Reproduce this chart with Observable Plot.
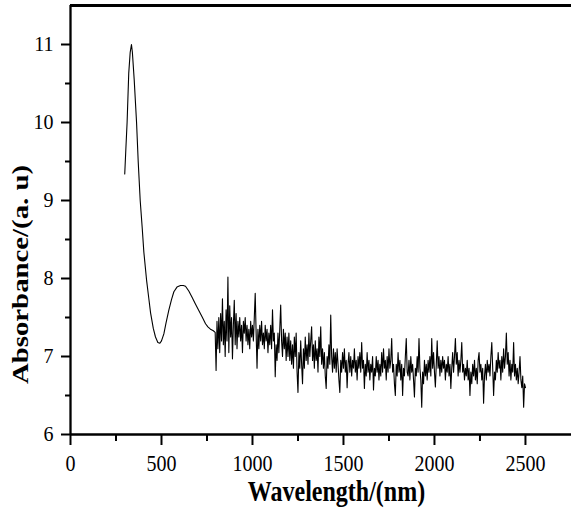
<!DOCTYPE html>
<html>
<head>
<meta charset="utf-8">
<script src="https://cdn.jsdelivr.net/npm/d3@7"></script>
<script src="https://cdn.jsdelivr.net/npm/@observablehq/plot@0.6"></script>
<style>
  html, body { margin: 0; padding: 0; background: white; }
</style>
</head>
<body>
<div id="chart"></div>
<script>
// Smooth UV-Vis part (wavelength nm, absorbance)
const smoothX = [298, 304, 311, 320, 328, 335, 340, 350, 363, 372,
                 383, 394, 403, 418, 430, 440, 455, 467, 480, 491,
                 500, 513, 525, 540, 555, 568, 585, 604, 620, 632,
                 650, 668, 685, 705, 725, 742, 755, 769, 785, 795];
const smoothY = [9.34, 9.65, 10.0, 10.63, 10.9, 11.0, 10.9, 10.55, 10.0, 9.5,
                 9.0, 8.65, 8.34, 7.98, 7.75, 7.56, 7.36, 7.25, 7.18, 7.17,
                 7.2, 7.29, 7.43, 7.59, 7.73, 7.83, 7.89, 7.91, 7.91, 7.90,
                 7.84, 7.76, 7.68, 7.59, 7.5, 7.42, 7.38, 7.35, 7.33, 7.31];

// Noisy NIR part: sampled every 5 nm starting at 800 nm
const noiseStart = 800;
const noiseStep = 5;
const noiseY = [
  6.82, 7.45, 7.1, 7.5, 7.05, 7.55, 7.2, 7.74, 7.15, 7.45, 7.0, 7.6, 7.2, 8.02, 7.05, 7.65, 7.25, 7.5, 6.97, 7.4,
  7.72, 7.15, 7.55, 7.1, 7.45, 7.25, 7.5, 7.2, 7.4, 7.05, 7.45, 7.3, 7.5, 7.2, 7.4, 7.15, 7.35, 7.1, 7.45, 7.25,
  7.4, 7.2, 7.5, 7.81, 7.3, 6.85, 7.35, 7.1, 7.4, 7.2, 7.45, 7.15, 7.3, 7.1, 7.4, 7.2, 7.35, 7.05, 7.3, 7.15,
  7.4, 7.1, 7.6, 7.2, 7.3, 6.74, 7.15, 6.95, 7.3, 7.05, 7.35, 7.66, 7.2, 7.0, 7.35, 7.1, 7.3, 6.95, 7.25, 7.0,
  7.3, 6.95, 7.2, 6.9, 7.15, 6.85, 7.25, 7.0, 7.3, 6.8, 6.54, 7.05, 6.85, 7.2, 6.9, 6.65, 7.1, 6.85, 7.25, 6.95,
  7.15, 6.9, 7.3, 7.0, 7.2, 7.38, 6.95, 7.15, 6.85, 7.2, 6.95, 7.1, 6.8, 7.25, 7.0, 7.38, 6.9, 7.1, 6.85, 7.05,
  6.75, 6.59, 7.0, 6.85, 7.15, 6.9, 7.53, 7.0, 6.8, 7.1, 6.85, 7.05, 6.8, 7.1, 6.9, 6.7, 6.54, 6.95, 6.8, 7.05,
  6.85, 7.1, 6.8, 6.95, 6.6, 6.9, 7.05, 6.8, 7.0, 6.75, 6.95, 6.85, 7.1, 6.8, 6.95, 6.7, 7.0, 6.85, 7.05, 6.8,
  7.18, 6.85, 6.95, 6.59, 6.9, 6.75, 7.05, 6.8, 6.95, 6.7, 6.9, 6.8, 7.0, 6.57, 6.85, 6.75, 7.0, 6.8, 6.95, 6.7,
  6.9, 6.75, 7.05, 6.8, 7.1, 6.85, 6.95, 6.7, 7.0, 6.8, 7.1, 6.85, 6.95, 7.23, 6.8, 6.9, 6.65, 6.5, 6.9, 6.75,
  7.05, 6.8, 6.95, 6.7, 6.9, 6.5, 6.85, 6.75, 7.0, 7.23, 6.8, 6.75, 6.95, 6.7, 7.0, 6.8, 6.9, 6.7, 6.48, 6.85,
  6.75, 7.0, 6.8, 7.23, 6.85, 6.7, 6.35, 6.8, 6.65, 6.95, 6.75, 6.9, 6.7, 6.95, 6.8, 7.0, 6.75, 7.23, 6.85, 7.05,
  6.8, 6.61, 6.9, 7.2, 6.85, 7.0, 6.75, 6.95, 6.8, 7.0, 6.85, 6.95, 6.7, 6.9, 6.8, 7.0, 6.75, 6.9, 6.59, 6.85,
  7.05, 6.8, 7.0, 7.23, 6.9, 7.05, 6.75, 6.95, 6.8, 6.95, 7.18, 6.8, 6.9, 6.7, 6.85, 6.75, 6.95, 6.7, 6.85, 6.5,
  6.8, 6.65, 6.9, 6.75, 6.95, 6.7, 6.85, 6.65, 6.95, 7.05, 6.8, 6.9, 6.7, 6.85, 6.4, 6.75, 6.9, 6.7, 6.95, 6.8,
  6.9, 6.75, 7.0, 7.18, 6.85, 6.5, 6.8, 6.7, 6.95, 6.8, 7.05, 6.85, 6.95, 6.7, 7.0, 6.8, 7.1, 6.85, 7.0, 7.3,
  6.9, 7.05, 6.75, 6.95, 6.7, 6.9, 6.8, 7.18, 6.75, 6.9, 6.7, 6.85, 6.65, 6.8, 7.0, 6.7, 6.6, 6.75, 6.35, 6.65,
  6.6
];

const xMajor = [0, 500, 1000, 1500, 2000, 2500];
const xMinor = [250, 750, 1250, 1750, 2250];
const yMajor = [6, 7, 8, 9, 10, 11];
const yMinor = [6.5, 7.5, 8.5, 9.5, 10.5];
const xTitle = "Wavelength/(nm)";
const yTitle = "Absorbance/(a. u)";

const points = smoothX.map((x, i) => ({x, y: smoothY[i]}))
  .concat(noiseY.map((y, i) => ({x: noiseStart + i * noiseStep, y})));

const chart = Plot.plot({
  width: 571,
  height: 516,
  marginLeft: 70,
  marginRight: 0,
  marginTop: 5,
  marginBottom: 82,
  x: {domain: [0, 2753]},
  y: {domain: [6, 11.5]},
  style: {fontFamily: "'Liberation Serif', 'Times New Roman', serif", background: "white", color: "black"},
  marks: [
    Plot.line(points, {x: "x", y: "y", stroke: "black", strokeWidth: 1.1}),
    Plot.ruleY([11.5], {stroke: "black", strokeWidth: 2.8}),
    Plot.ruleY([6], {stroke: "black", strokeWidth: 2.5}),
    Plot.ruleX([0], {stroke: "black", strokeWidth: 2.3}),
    Plot.axisX({ticks: xMajor, tickSize: 11, tickPadding: 9, fontSize: 20, strokeWidth: 2,
                tickFormat: d => String(d), label: null}),
    Plot.axisX({ticks: xMinor, tickSize: 7, strokeWidth: 2, tickFormat: () => "", label: null}),
    Plot.axisY({ticks: yMajor, tickSize: 9, tickPadding: 8, fontSize: 20, strokeWidth: 2,
                tickFormat: d => String(d), label: null}),
    Plot.axisY({ticks: yMinor, tickSize: 5, strokeWidth: 2, tickFormat: () => "", label: null}),
    Plot.text([xTitle], {text: d => d, frameAnchor: "bottom", dx: 15.5, dy: 66, fontSize: 24,
                         fontWeight: "bold", textAnchor: "middle"}),
    Plot.text([yTitle], {text: d => d, frameAnchor: "left", dx: -50, dy: 54.5, rotate: -90, fontSize: 24,
                         fontWeight: "bold", textAnchor: "middle"})
  ]
});

document.getElementById("chart").appendChild(chart);

// Vertical stretch of the text, as in the reference image
function stretchNode(node, k) {
  const t = node.getAttribute("transform");
  if (t) {
    if (t.includes("rotate(")) node.setAttribute("transform", t.replace("rotate(", `scale(1,${k}) rotate(`));
    else node.setAttribute("transform", t + ` scale(1,${k})`);
  } else {
    const x = node.getAttribute("x") || 0, y = node.getAttribute("y") || 0;
    node.removeAttribute("x"); node.removeAttribute("y");
    node.setAttribute("transform", `translate(${x},${y}) scale(1,${k})`);
  }
}
d3.select(chart).selectAll("text").each(function () {
  const label = this.parentNode.getAttribute("aria-label");
  const txt = this.textContent;
  if (label === "x-axis tick label") stretchNode(this, 1.15);
  else if (txt === xTitle || txt === yTitle) stretchNode(this, 1.2);
});
</script>
</body>
</html>
